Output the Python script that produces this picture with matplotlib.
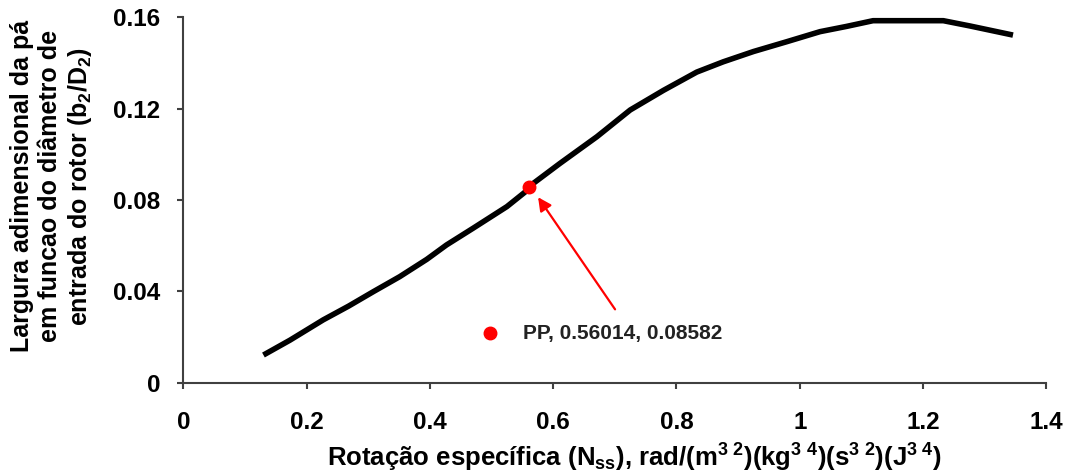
import matplotlib
matplotlib.use("Agg")
import matplotlib.pyplot as plt

plt.rcParams['font.family'] = ['Liberation Sans', 'DejaVu Sans']
plt.rcParams['mathtext.fontset'] = 'custom'
plt.rcParams['mathtext.rm'] = 'Liberation Sans:bold'
plt.rcParams['mathtext.bf'] = 'Liberation Sans:bold'
plt.rcParams['mathtext.it'] = 'Liberation Sans:bold'
plt.rcParams['mathtext.default'] = 'bf'

# Curve data (Nss vs b2/D2)
nss = [0.130, 0.173, 0.227, 0.268, 0.308, 0.351, 0.395, 0.427, 0.470, 0.525, 0.562,
       0.568, 0.611, 0.671, 0.725, 0.779, 0.833, 0.876, 0.925, 0.979, 1.033, 1.076,
       1.119, 1.233, 1.276, 1.346]
b2d2 = [0.0121, 0.0186, 0.0275, 0.0335, 0.0398, 0.0464, 0.0540, 0.0603, 0.0676, 0.0771, 0.0851,
        0.0873, 0.0960, 0.1077, 0.1194, 0.1280, 0.1360, 0.1405, 0.1450, 0.1493, 0.1537, 0.1560,
        0.1585, 0.1585, 0.1562, 0.1522]

pp_x = 0.56014
pp_y = 0.08582
pp_label = "PP, 0.56014, 0.08582"
legend_pt = (0.497, 0.0216)
legend_text_x = 0.551
arrow_tail = (0.703, 0.0311)
arrow_head = (0.573, 0.0822)

xticks = [0, 0.2, 0.4, 0.6, 0.8, 1.0, 1.2, 1.4]
xticklabels = ["0", "0.2", "0.4", "0.6", "0.8", "1", "1.2", "1.4"]
yticks = [0, 0.04, 0.08, 0.12, 0.16]
yticklabels = ["0", "0.04", "0.08", "0.12", "0.16"]

fig = plt.figure(figsize=(10.72, 4.73), dpi=100)
ax = fig.add_axes([0.171, 0.191, 0.805, 0.7725])

ax.plot(nss, b2d2, color='black', lw=4, solid_capstyle='butt', solid_joinstyle='round')
ax.plot([pp_x], [pp_y], 'o', color='red', ms=9, zorder=5)
ax.annotate("", xy=arrow_head, xytext=arrow_tail,
            arrowprops=dict(arrowstyle='-|>', color='red', lw=1.6, mutation_scale=20))
ax.plot([legend_pt[0]], [legend_pt[1]], 'o', color='red', ms=9)
ax.text(legend_text_x, legend_pt[1], pp_label, fontsize=15, fontweight='bold',
        va='center', ha='left', color='#222222')

ax.set_xlim(0, 1.4)
ax.set_ylim(0, 0.16)
ax.set_xticks(xticks)
ax.set_xticklabels(xticklabels)
ax.set_yticks(yticks)
ax.set_yticklabels(yticklabels)

for s in ['top', 'right']:
    ax.spines[s].set_visible(False)
for s in ['left', 'bottom']:
    ax.spines[s].set_color('#404040')
    ax.spines[s].set_linewidth(1.5)

ax.tick_params(axis='both', direction='out', length=4.5, width=1.5, color='#404040',
               labelsize=17.5)
ax.tick_params(axis='x', pad=16)
ax.tick_params(axis='y', pad=12)
for lab in ax.get_xticklabels() + ax.get_yticklabels():
    lab.set_fontweight('bold')

ax.set_xlabel("Rotação específica (N$_{ss}$), rad/(m$^{3\\ 2}$)(kg$^{3\\ 4}$)(s$^{3\\ 2}$)(J$^{3\\ 4}$)",
              fontsize=18.5, fontweight='bold', va='center')
ax.xaxis.set_label_coords(0.523, -0.205)
ax.set_ylabel("Largura adimensional da pá\nem funcao do diâmetro de\nentrada do rotor (b$_{2}$/D$_{2}$)",
              fontsize=18, fontweight='bold', linespacing=1.2, va='center')
ax.yaxis.set_label_coords(-0.152, 0.538)

fig.savefig("out.png", dpi=100)
